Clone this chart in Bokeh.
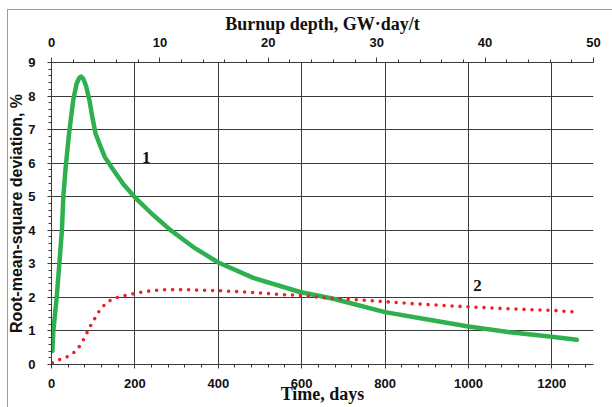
from bokeh.plotting import figure
from bokeh.models import Range1d, LinearAxis, SingleIntervalTicker, Label
from bokeh.embed import file_html
from bokeh.resources import INLINE

# Curve 1 (green, solid): time in days, RMS deviation in %
days_1 = [2, 4.4, 12.5, 18.7, 25, 28.3, 34, 42, 52, 60, 66, 71, 76, 83, 91, 98,
          106, 115, 128, 144, 172, 200, 240, 284, 340, 400, 484, 596, 676, 800,
          916, 1000, 1100, 1200, 1260]
rms_1 = [0.40, 1.0, 2.0, 3.0, 4.0, 4.99, 5.88, 6.87, 7.87, 8.36, 8.53, 8.58, 8.52,
         8.30, 7.87, 7.37, 6.87, 6.58, 6.18, 5.88, 5.38, 4.98, 4.50, 4.02, 3.50,
         3.04, 2.58, 2.16, 1.96, 1.56, 1.31, 1.13, 0.96, 0.83, 0.74]

# Curve 2 (red, dotted)
days_2 = [2, 22, 38, 54, 66, 76, 84, 92, 102, 111, 122, 134, 150, 167, 186, 204,
          222, 242, 260, 280, 300, 320, 340, 370, 400, 430, 466, 505, 542, 578,
          605, 662, 758, 869, 982, 1094, 1205, 1260]
rms_2 = [0.05, 0.16, 0.23, 0.36, 0.52, 0.72, 0.92, 1.12, 1.33, 1.53, 1.71, 1.86,
         1.97, 2.03, 2.08, 2.13, 2.17, 2.20, 2.22, 2.23, 2.23, 2.23, 2.22, 2.21,
         2.20, 2.18, 2.16, 2.13, 2.09, 2.07, 2.05, 1.98, 1.91, 1.81, 1.73, 1.66,
         1.61, 1.56]

time_range = (0, 1300)
burnup_range = (0, 50)
rms_range = (0, 9)
time_step = 200
burnup_step = 10
rms_step = 1

curve_labels = ["1", "2"]
curve_label_x = [227, 1022]
curve_label_y = [6.18, 2.35]

GREEN = "#2DB04D"
RED = "#E8232A"
GRID = "#3a3a3a"
AXIS = "#3a3a3a"
TEXT = "#111111"
TICK_FONT = "Liberation Sans"
SERIF = "Liberation Serif"

p = figure(width=612, height=407,
           x_range=Range1d(*time_range), y_range=Range1d(*rms_range),
           output_backend="svg", toolbar_location=None,
           min_border_left=51, min_border_right=19,
           min_border_top=62, min_border_bottom=43,
           background_fill_color="white", border_fill_color="white")
p.border_fill_alpha = 0
p.outline_line_color = None
p.styles = {
    "background-color": "white",
    "background-image": "linear-gradient(#9c9c9c, #9c9c9c), linear-gradient(#9c9c9c, #9c9c9c)",
    "background-size": "1px 400px, 606px 1px",
    "background-position": "7px 9px, 7px 9px",
    "background-repeat": "no-repeat",
}

bottom = p.below[0]
yax = p.left[0]

p.extra_x_ranges = {"burnup": Range1d(*burnup_range)}
top = LinearAxis(x_range_name="burnup",
                 ticker=SingleIntervalTicker(interval=burnup_step, num_minor_ticks=5),
                 axis_label="Burnup depth, GW·day/t")
p.add_layout(top, "above")

bottom.ticker = SingleIntervalTicker(interval=time_step, num_minor_ticks=5)
yax.ticker = SingleIntervalTicker(interval=rms_step, num_minor_ticks=5)
bottom.axis_label = "Time, days"
yax.axis_label = "Root-mean-square deviation, %"

for ax in [bottom, top, yax]:
    ax.axis_line_color = AXIS
    ax.axis_line_width = 1
    ax.major_tick_line_color = AXIS
    ax.minor_tick_line_color = AXIS
    ax.major_tick_in = 0
    ax.minor_tick_in = 0
    ax.major_tick_out = 5
    ax.minor_tick_out = 3
    ax.major_label_text_font = TICK_FONT
    ax.major_label_text_font_style = "bold"
    ax.major_label_text_font_size = "13px"
    ax.major_label_text_color = TEXT
    ax.axis_label_text_font_style = "bold"
    ax.axis_label_text_color = TEXT

bottom.major_tick_out = 4
bottom.major_label_standoff = 10
bottom.axis_label_standoff = -7
bottom.axis_label_text_font = SERIF
bottom.axis_label_text_font_size = "18px"

top.major_label_standoff = 11
top.axis_label_standoff = 1
top.axis_label_text_font = SERIF
top.axis_label_text_font_size = "18px"

yax.major_tick_out = 4
yax.major_label_standoff = 12
yax.axis_label_standoff = 0
yax.axis_label_text_font = TICK_FONT
yax.axis_label_text_font_size = "16px"

p.xgrid.grid_line_color = GRID
p.ygrid.grid_line_color = GRID
p.xgrid.grid_line_width = 1
p.ygrid.grid_line_width = 1

p.line(days_1, rms_1, line_color=GREEN, line_width=4.5,
       line_join="round", line_cap="round")
p.line(days_2, rms_2, line_color=RED, line_width=3.6,
       line_dash="0 8", line_cap="round")

for t, x, y in zip(curve_labels, curve_label_x, curve_label_y):
    p.add_layout(Label(x=x, y=y, text=t, text_align="center",
                       text_baseline="alphabetic", text_font=SERIF,
                       text_font_style="bold", text_font_size="17px",
                       text_color=TEXT))

open("out.html", "w").write(file_html(p, INLINE))
